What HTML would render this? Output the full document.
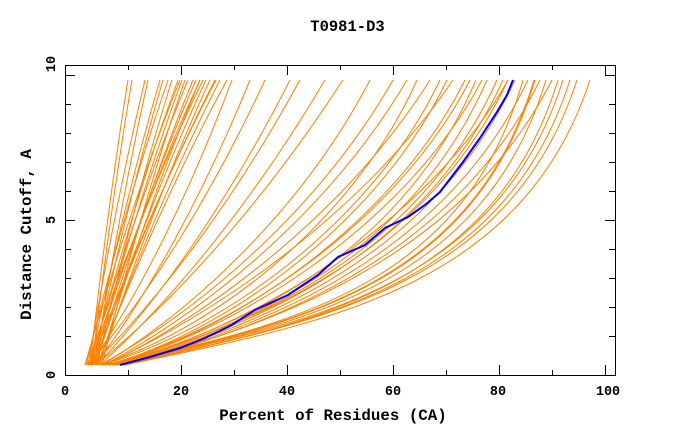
<!DOCTYPE html>
<html><head><meta charset="utf-8"><style>
html,body{margin:0;padding:0;background:#fff;}
svg{display:block;}
.o path{fill:none;stroke:#ff8000;stroke-width:1;vector-effect:non-scaling-stroke;}
text{font-family:"Liberation Mono","DejaVu Sans Mono",monospace;font-weight:bold;fill:#000;}
</style></head><body>
<svg width="680" height="440" viewBox="0 0 680 440" xmlns="http://www.w3.org/2000/svg">
<rect width="680" height="440" fill="#fff"/>
<g class="o">
<!-- steep group -->
<path transform="translate(90 365) scale(38 -285)" d="M0 0C0.28 0.33 0.64 0.7 1 1"/>
<path transform="translate(92 365) scale(40 -285)" d="M0 0C0.28 0.33 0.64 0.7 1 1"/>
<path transform="translate(88 365) scale(57 -285)" d="M0 0C0.28 0.33 0.64 0.7 1 1"/>
<path transform="translate(95 365) scale(53 -285)" d="M0 0C0.28 0.33 0.64 0.7 1 1"/>
<path transform="translate(90 365) scale(70 -285)" d="M0 0C0.28 0.33 0.64 0.7 1 1"/>
<path transform="translate(93 365) scale(70 -285)" d="M0 0C0.28 0.33 0.64 0.7 1 1"/>
<path transform="translate(86 365) scale(82 -285)" d="M0 0C0.28 0.33 0.64 0.7 1 1"/>
<path transform="translate(97 365) scale(75 -285)" d="M0 0C0.28 0.33 0.64 0.7 1 1"/>
<path transform="translate(91 365) scale(87 -285)" d="M0 0C0.28 0.33 0.64 0.7 1 1"/>
<path transform="translate(94 365) scale(88 -285)" d="M0 0C0.28 0.33 0.64 0.7 1 1"/>
<path transform="translate(89 365) scale(99 -285)" d="M0 0C0.28 0.33 0.64 0.7 1 1"/>
<path transform="translate(96 365) scale(97 -285)" d="M0 0C0.28 0.33 0.64 0.7 1 1"/>
<path transform="translate(92 365) scale(104 -285)" d="M0 0C0.28 0.33 0.64 0.7 1 1"/>
<path transform="translate(99 365) scale(101 -285)" d="M0 0C0.28 0.33 0.64 0.7 1 1"/>
<path transform="translate(87 365) scale(116 -285)" d="M0 0C0.28 0.33 0.64 0.7 1 1"/>
<path transform="translate(95 365) scale(111 -285)" d="M0 0C0.28 0.33 0.64 0.7 1 1"/>
<path transform="translate(100 365) scale(110 -285)" d="M0 0C0.28 0.33 0.64 0.7 1 1"/>
<path transform="translate(93 365) scale(122 -285)" d="M0 0C0.28 0.33 0.64 0.7 1 1"/>
<path transform="translate(98 365) scale(122 -285)" d="M0 0C0.28 0.33 0.64 0.7 1 1"/>
<path transform="translate(90 365) scale(110 -285)" d="M0 0C0.28 0.33 0.64 0.7 1 1"/>
<path transform="translate(102 365) scale(83 -285)" d="M0 0C0.28 0.33 0.64 0.7 1 1"/>
<path transform="translate(85 365) scale(95 -285)" d="M0 0C0.28 0.33 0.64 0.7 1 1"/>
<path transform="translate(97 365) scale(130 -285)" d="M0 0C0.28 0.33 0.64 0.7 1 1"/>
<path transform="translate(91 365) scale(125 -285)" d="M0 0C0.28 0.33 0.64 0.7 1 1"/>
<!-- middle group -->
<path transform="translate(90 365) scale(142 -285)" d="M0 0C0.35 0.25 0.7 0.6 1 1"/>
<path transform="translate(95 365) scale(155 -285)" d="M0 0C0.35 0.25 0.7 0.6 1 1"/>
<path transform="translate(88 365) scale(177 -285)" d="M0 0C0.35 0.25 0.7 0.6 1 1"/>
<path transform="translate(97 365) scale(193 -285)" d="M0 0C0.35 0.25 0.7 0.6 1 1"/>
<path transform="translate(92 365) scale(208 -285)" d="M0 0C0.35 0.25 0.7 0.6 1 1"/>
<path transform="translate(100 365) scale(225 -285)" d="M0 0C0.35 0.25 0.7 0.6 1 1"/>
<path transform="translate(96 365) scale(247 -285)" d="M0 0C0.35 0.25 0.7 0.6 1 1"/>
<!-- upper shallow band -->
<path transform="translate(102 365) scale(268 -285)" d="M0 0C0.35 0.2 0.75 0.55 1 1"/>
<path transform="translate(100 365) scale(293 -285)" d="M0 0C0.35 0.2 0.75 0.55 1 1"/>
<path transform="translate(104 365) scale(303 -285)" d="M0 0C0.35 0.2 0.75 0.55 1 1"/>
<path transform="translate(100 365) scale(317 -285)" d="M0 0C0.35 0.12 0.8 0.5 1 1"/>
<path transform="translate(106 365) scale(324 -285)" d="M0 0C0.35 0.2 0.75 0.55 1 1"/>
<path transform="translate(102 365) scale(338 -285)" d="M0 0C0.35 0.12 0.8 0.5 1 1"/>
<path transform="translate(108 365) scale(339 -285)" d="M0 0C0.35 0.12 0.8 0.5 1 1"/>
<path transform="translate(104 365) scale(349 -285)" d="M0 0C0.35 0.2 0.75 0.55 1 1"/>
<path transform="translate(110 365) scale(355 -285)" d="M0 0C0.35 0.12 0.8 0.5 1 1"/>
<path transform="translate(106 365) scale(364 -285)" d="M0 0C0.35 0.12 0.8 0.5 1 1"/>
<path transform="translate(112 365) scale(364 -285)" d="M0 0C0.38 0.14 0.8 0.4 1 1"/>
<path transform="translate(108 365) scale(374 -285)" d="M0 0C0.35 0.12 0.8 0.5 1 1"/>
<path transform="translate(114 365) scale(373 -285)" d="M0 0C0.38 0.14 0.8 0.4 1 1"/>
<!-- lower shallow band -->
<path transform="translate(112 365) scale(385 -285)" d="M0 0C0.38 0.14 0.8 0.4 1 1"/>
<path transform="translate(116 365) scale(387 -285)" d="M0 0C0.38 0.14 0.8 0.4 1 1"/>
<path transform="translate(110 365) scale(398 -285)" d="M0 0C0.35 0.12 0.8 0.5 1 1"/>
<path transform="translate(118 365) scale(397 -285)" d="M0 0C0.38 0.14 0.8 0.4 1 1"/>
<path transform="translate(114 365) scale(409 -285)" d="M0 0C0.4 0.14 0.85 0.25 1 1"/>
<path transform="translate(120 365) scale(408 -285)" d="M0 0C0.38 0.14 0.8 0.4 1 1"/>
<path transform="translate(112 365) scale(422 -285)" d="M0 0C0.4 0.14 0.85 0.25 1 1"/>
<path transform="translate(122 365) scale(418 -285)" d="M0 0C0.38 0.14 0.8 0.4 1 1"/>
<path transform="translate(116 365) scale(430 -285)" d="M0 0C0.4 0.14 0.85 0.25 1 1"/>
<path transform="translate(118 365) scale(434 -285)" d="M0 0C0.38 0.14 0.8 0.4 1 1"/>
<path transform="translate(124 365) scale(434 -285)" d="M0 0C0.4 0.14 0.85 0.25 1 1"/>
<path transform="translate(114 365) scale(449 -285)" d="M0 0C0.4 0.14 0.85 0.25 1 1"/>
<path transform="translate(120 365) scale(450 -285)" d="M0 0C0.4 0.14 0.85 0.25 1 1"/>
<path transform="translate(118 365) scale(459 -285)" d="M0 0C0.4 0.14 0.85 0.25 1 1"/>
<path transform="translate(125 365) scale(465 -285)" d="M0 0C0.4 0.14 0.85 0.25 1 1"/>
<path transform="translate(115 365) scale(420 -285)" d="M0 0C0.4 0.14 0.85 0.25 1 1"/>
<path transform="translate(108 365) scale(400 -285)" d="M0 0C0.38 0.14 0.8 0.4 1 1"/>
</g>
<!-- blue curve -->
<polyline fill="none" stroke="#0000ff" stroke-width="2" points="120,365 150,357 180,348 205,338 230,326 255,310 288,295 318,275 338,257 365,245 385,228 408,217 425,205 440,192 463,162 480,138 497,112 507,95 513,80"/>
<!-- axes -->
<g stroke="#000" stroke-width="1" fill="none" shape-rendering="crispEdges">
<rect x="65.5" y="65.5" width="550" height="310"/>
<path d="M181.5 375V365M287.5 375V365M393.5 375V365M499.5 375V365M605.5 375V365
M128.5 375V370M234.5 375V370M340.5 375V370M446.5 375V370M552.5 375V370
M181.5 65V75M287.5 65V75M393.5 65V75M499.5 65V75M605.5 65V75
M128.5 65V70M234.5 65V70M340.5 65V70M446.5 65V70M552.5 65V70
M65 75.5H75M65 220.5H75M65 104.5H71M65 133.5H71M65 162.5H71M65 191.5H71M65 249.5H71M65 278.5H71M65 307.5H71M65 336.5H71
M615 75.5H605M615 220.5H605M615 104.5H609M615 133.5H609M615 162.5H609M615 191.5H609M615 249.5H609M615 278.5H609M615 307.5H609M615 336.5H609"/>
</g>
<!-- text -->
<text x="347.5" y="31" font-size="15.5" text-anchor="middle">T0981-D3</text>
<text x="333" y="420" font-size="15.8" text-anchor="middle">Percent of Residues (CA)</text>
<text x="65" y="395" font-size="13.5" text-anchor="middle">0</text>
<text x="181" y="395" font-size="13.5" text-anchor="middle">20</text>
<text x="287" y="395" font-size="13.5" text-anchor="middle">40</text>
<text x="393" y="395" font-size="13.5" text-anchor="middle">60</text>
<text x="498" y="395" font-size="13.5" text-anchor="middle">80</text>
<text x="608" y="395" font-size="13.5" text-anchor="middle">100</text>
<text transform="translate(55 375) rotate(-90)" font-size="13.5" text-anchor="middle">0</text>
<text transform="translate(55 220) rotate(-90)" font-size="13.5" text-anchor="middle">5</text>
<text transform="translate(55 64) rotate(-90)" font-size="13.5" text-anchor="middle">10</text>
<text transform="translate(31 234.5) rotate(-90)" font-size="15.8" text-anchor="middle">Distance Cutoff, A</text>
</svg>
</body></html>
